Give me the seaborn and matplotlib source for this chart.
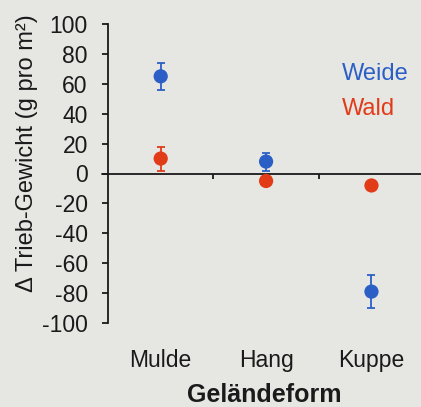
import matplotlib
matplotlib.use("Agg")
import matplotlib.pyplot as plt
import seaborn as sns
import pandas as pd

# values
categories = ["Mulde", "Hang", "Kuppe"]
weide_mean = [65, 8, -79]
weide_err = [9, 6, 11]
wald_mean = [10, -5, -8]
wald_err = [8, 2, 2]

blue = "#2c5fc6"
red = "#e23b18"
paper = "#e6e6e3"
ink = "#1a1a1a"

sns.set_theme(style="white")
plt.rcParams["font.family"] = ["Liberation Sans", "DejaVu Sans"]
plt.rcParams["axes.unicode_minus"] = False

df = pd.DataFrame({
    "form": categories * 2,
    "delta": weide_mean + wald_mean,
    "err": weide_err + wald_err,
    "group": ["Weide"] * 3 + ["Wald"] * 3,
})

fig = plt.figure(figsize=(4.21, 4.07), dpi=100, facecolor=paper)
ax = fig.add_axes([108 / 421, 1 - 323 / 407, 313 / 421, 299 / 407])
ax.set_facecolor(paper)

pos = {c: i for i, c in enumerate(categories)}
df["x"] = df["form"].map(pos)

for grp, col in [("Weide", blue), ("Wald", red)]:
    sub = df[df["group"] == grp]
    ax.errorbar(sub["x"], sub["delta"], yerr=sub["err"], fmt="none",
                ecolor=col, elinewidth=1.3, capsize=3, capthick=1.3, zorder=2)

sns.scatterplot(data=df, x="x", y="delta", hue="group",
                palette={"Weide": blue, "Wald": red}, s=105,
                edgecolor="none", legend=False, ax=ax, zorder=3)

ax.set_xlim(-0.5, 2.47)
ax.set_ylim(-100, 100)

# zero line and group boundary ticks
ax.axhline(0, xmin=-6 / 313, xmax=1, color=ink, lw=1.3, clip_on=False, zorder=1)
ax.vlines([0.5, 1.5], -4, 0, color=ink, lw=1.3)

for s in ["top", "right", "bottom"]:
    ax.spines[s].set_visible(False)
ax.spines["left"].set_color(ink)
ax.spines["left"].set_linewidth(1.3)

ax.set_yticks(range(-100, 101, 20))
ax.tick_params(axis="y", direction="out", length=4.5, width=1.3, color=ink,
               pad=10, labelsize=16.5, labelcolor=ink, left=True)
ax.set_xticks(range(len(categories)))
ax.set_xticklabels(categories)
ax.tick_params(axis="x", length=0, pad=19, labelsize=16.5, labelcolor=ink)

ax.set_xlabel("Geländeform", fontsize=18, fontweight="bold", color=ink, labelpad=8)
ax.set_ylabel("")
fig.text(27 / 421, 1 - 153 / 407, "Δ Trieb-Gewicht (g pro m²)", rotation=90,
         ha="center", va="center", fontsize=17, color=ink)

ax.text(1.716, 66.7, "Weide", color=blue, fontsize=17, va="center", ha="left")
ax.text(1.716, 43.3, "Wald", color=red, fontsize=17, va="center", ha="left")

fig.savefig("out.png", dpi=100, facecolor=paper)
